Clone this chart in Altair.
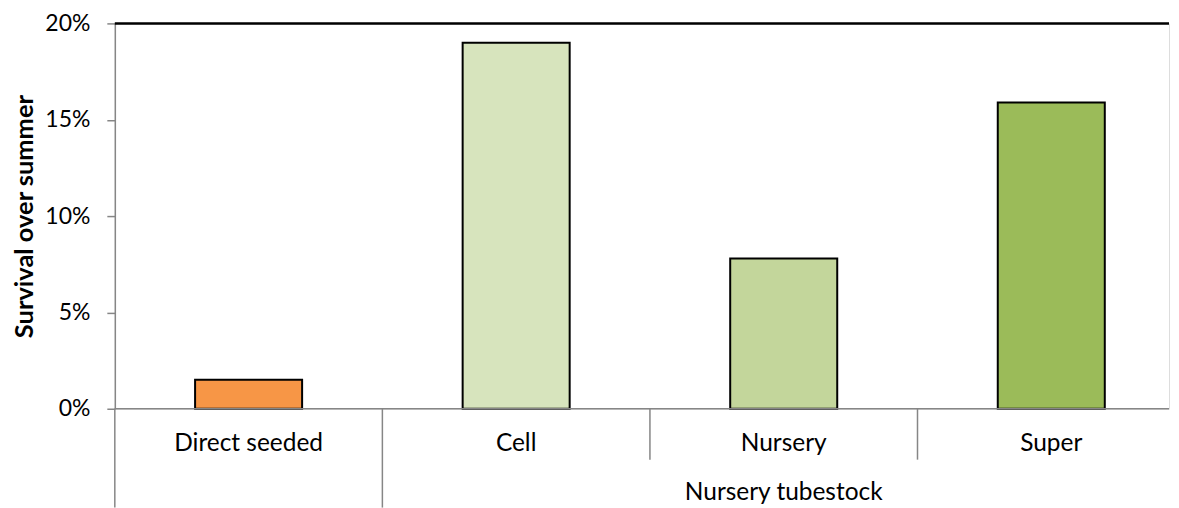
import altair as alt
import pandas as pd

categories = ["Direct seeded", "Cell", "Nursery", "Super"]
groups = ["", "Nursery tubestock", "Nursery tubestock", "Nursery tubestock"]
values = [0.015, 0.19, 0.078, 0.159]
colors = ["#F79646", "#D7E4BD", "#C3D69B", "#9BBB59"]
y_ticks = [0, 0.05, 0.10, 0.15, 0.20]

W = 1056
H = 386
FONT = "Lato"

df = pd.DataFrame({
    "cat": categories,
    "grp": groups,
    "val": values,
    "idx": list(range(len(categories))),
})
df["x0"] = df["idx"] + 0.3
df["x1"] = df["idx"] + 0.7
df["mid"] = df["idx"] + 0.5

# separators at band boundaries; long where a new group starts
sep = pd.DataFrame({"b": df["idx"].tolist()})
sep["long"] = [i == 0 or groups[i] != groups[i - 1] for i in df["idx"]]

xs = alt.Scale(domain=[0, 3.94], nice=False, zero=False)
ys = alt.Scale(domain=[0, 0.2], nice=False)

base = alt.Chart(df)

bars = base.mark_bar(stroke="black", strokeWidth=2).encode(
    x=alt.X("x0:Q", scale=xs, axis=None),
    x2="x1:Q",
    y=alt.Y("val:Q", scale=ys, axis=alt.Axis(
        values=y_ticks, format=".0%", title="Survival over summer",
        grid=False, tickSize=8, tickColor="#868686", domainColor="#868686",
        domainWidth=1.5, tickWidth=1.5,
        labelFont=FONT, labelFontSize=23, labelColor="black", labelPadding=17,
        titleFont=FONT, titleFontSize=25.5, titleFontWeight="bold", titleColor="black",
        titlePadding=7)),
    y2=alt.datum(0),
    color=alt.Color("cat:N", scale=alt.Scale(domain=categories, range=colors), legend=None),
)

zero_line = base.mark_rule(color="#868686", strokeWidth=1.5).encode(
    y=alt.Y("z:Q", scale=ys),
    x=alt.value(0), x2=alt.value(W),
).transform_calculate(z="0").transform_filter("datum.idx == 0")

top_line = base.mark_rule(color="black", strokeWidth=2.5).encode(
    y=alt.Y("t:Q", scale=ys),
    x=alt.value(0), x2=alt.value(W),
).transform_calculate(t="0.2").transform_filter("datum.idx == 0")

seps_long = alt.Chart(sep).mark_rule(color="#868686", strokeWidth=1.5).encode(
    x=alt.X("b:Q", scale=xs),
    y=alt.value(H), y2=alt.value(H + 99),
).transform_filter("datum.long")

seps_short = alt.Chart(sep).mark_rule(color="#868686", strokeWidth=1.5).encode(
    x=alt.X("b:Q", scale=xs),
    y=alt.value(H), y2=alt.value(H + 51),
).transform_filter("!datum.long")

cat_labels = base.mark_text(font=FONT, fontSize=24.5, color="black", baseline="middle").encode(
    x=alt.X("mid:Q", scale=xs),
    y=alt.value(H + 35),
    text="cat:N",
)

grp_labels = base.transform_filter("datum.grp != ''").transform_aggregate(
    m="mean(mid)", groupby=["grp"]
).mark_text(font=FONT, fontSize=24.5, color="black", baseline="middle").encode(
    x=alt.X("m:Q", scale=xs),
    y=alt.value(H + 84),
    text="grp:N",
)

chart = alt.layer(bars, zero_line, top_line, seps_long, seps_short, cat_labels, grp_labels).properties(
    width=W, height=H,
    padding={"left": 4, "top": 4, "right": 0, "bottom": 0},
).configure_view(stroke=None).configure(background="white")

chart.save("out.html", embed_options={"renderer": "svg", "actions": False})
